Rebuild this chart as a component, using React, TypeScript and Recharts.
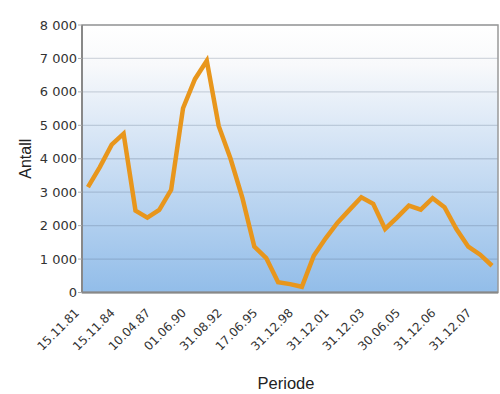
import React from "react";
import { LineChart, Line, XAxis, YAxis, CartesianGrid, ReferenceArea } from "recharts";

const tickLabels = [
  "15.11.81", "15.11.84", "10.04.87", "01.06.90", "31.08.92", "17.06.95",
  "31.12.98", "31.12.01", "31.12.03", "30.06.05", "31.12.06", "31.12.07",
];
const labelStep = 3;
const antall = [
  3150, 3750, 4420, 4750, 2450, 2240, 2470, 3070, 5510, 6380, 6930, 4980,
  4000, 2820, 1370, 1030, 310, 250, 170, 1100, 1620, 2090, 2470, 2850,
  2650, 1900, 2240, 2600, 2480, 2820, 2550, 1900, 1370, 1130, 800,
];
const yTicks = [0, 1000, 2000, 3000, 4000, 5000, 6000, 7000, 8000];

const data = antall.map((v, i) => ({ period: i, antall: v }));
const periodBounds = Array.from({ length: antall.length + 1 }, (_, i) => i);

const FONT = "'DejaVu Sans', Verdana, sans-serif";
const TITLE_FONT = "'Liberation Sans', Arial, sans-serif";

const fmtThousands = (v: number) => String(v).replace(/\B(?=(\d{3})+(?!\d))/g, " ");

const XTick = (props: any) => {
  const { x, y, payload } = props;
  const idx = Number(payload.value);
  if (idx % labelStep !== 0) return null;
  const label = tickLabels[idx / labelStep];
  if (!label) return null;
  const ax = x - 8;
  const ay = y + 21;
  return (
    <text
      x={ax}
      y={ay}
      textAnchor="end"
      transform={`rotate(-45, ${ax}, ${ay})`}
      fontSize={12}
      fontFamily={FONT}
      fill="#333"
    >
      {label}
    </text>
  );
};

export default function App() {
  return (
    <div style={{ position: "absolute", left: 0, top: 0, width: 500, height: 394, background: "#fff" }}>
      <LineChart
        width={500}
        height={394}
        data={data}
        margin={{ top: 25, right: 2, left: 22, bottom: 0 }}
      >
        <defs>
          <linearGradient id="plotBg" x1="0" y1="0" x2="0" y2="1">
            <stop offset="0%" stopColor="#ffffff" />
            <stop offset="15%" stopColor="#f8f9fb" />
            <stop offset="45%" stopColor="#d3e3f5" />
            <stop offset="100%" stopColor="#92bde9" />
          </linearGradient>
        </defs>
        <CartesianGrid
          vertical={false}
          horizontal={true}
          fill="url(#plotBg)"
          stroke="#4a5a75"
          strokeOpacity={0.22}
          strokeWidth={1.3}
          xAxisId={0}
        />
        <XAxis
          xAxisId={0}
          type="number"
          domain={[0, antall.length]}
          ticks={periodBounds}
          allowDataOverflow
          tickFormatter={() => ""}
          axisLine={false}
          tickLine={{ stroke: "#aaa" }}
          tickSize={4}
          height={0}
          interval={0}
        />
        <XAxis
          xAxisId={1}
          dataKey="period"
          type="category"
          scale="band"
          interval={labelStep - 1}
          tickLine={false}
          tickSize={0}
          tickMargin={0}
          axisLine={{ stroke: "#888", strokeWidth: 2 }}
          height={101.5}
          tick={<XTick />}
          label={{
            value: "Periode",
            position: "insideBottom",
            offset: 5,
            dx: -4,
            style: { fontSize: 16.5, fill: "#222", fontFamily: TITLE_FONT },
          }}
        />
        <YAxis
          domain={[0, 8000]}
          ticks={yTicks}
          allowDataOverflow
          width={60}
          tickSize={4}
          tickMargin={1}
          tickFormatter={fmtThousands}
          axisLine={{ stroke: "#888", strokeWidth: 2 }}
          tickLine={{ stroke: "#aaa" }}
          tick={{ fontSize: 13, fill: "#333", fontFamily: FONT }}
          label={{
            value: "Antall",
            angle: -90,
            position: "insideLeft",
            offset: 3,
            style: { textAnchor: "middle", fontSize: 16, fill: "#222", fontFamily: TITLE_FONT },
          }}
        />
        <ReferenceArea
          xAxisId={0}
          y1={0}
          y2={8000}
          fill="none"
          stroke="#999"
          strokeWidth={1.5}
          ifOverflow="visible"
        />
        <Line
          xAxisId={1}
          dataKey="antall"
          type="linear"
          stroke="#e8961c"
          strokeWidth={4.5}
          dot={false}
          activeDot={false}
          isAnimationActive={false}
        />
      </LineChart>
    </div>
  );
}
